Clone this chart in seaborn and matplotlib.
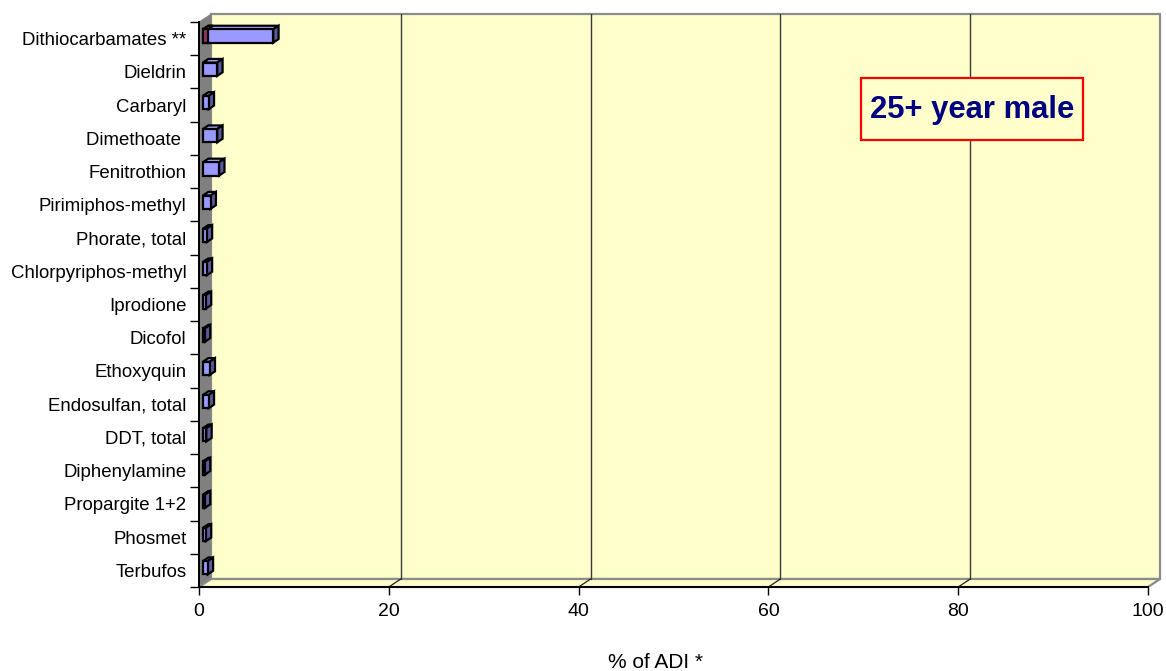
import matplotlib
matplotlib.use("Agg")
import matplotlib.pyplot as plt
from matplotlib.patches import Polygon, Rectangle
import numpy as np
import pandas as pd
import seaborn as sns

# ---- data: share of the acceptable daily intake (% of ADI) ----
pesticides = [
    "Dithiocarbamates **", "Dieldrin", "Carbaryl", "Dimethoate ",
    "Fenitrothion", "Pirimiphos-methyl", "Phorate, total",
    "Chlorpyriphos-methyl", "Iprodione", "Dicofol", "Ethoxyquin",
    "Endosulfan, total", "DDT, total", "Diphenylamine", "Propargite 1+2",
    "Phosmet", "Terbufos",
]
# first stacked segment (only Dithiocarbamates has one)
part_a = [0.5, 0, 0, 0, 0, 0, 0, 0, 0, 0, 0, 0, 0, 0, 0, 0, 0]
# second stacked segment
part_b = [6.9, 1.5, 0.6, 1.5, 1.7, 0.8, 0.4, 0.4, 0.3, 0.2, 0.7, 0.6,
          0.35, 0.2, 0.2, 0.3, 0.5]
x_ticks = [0, 20, 40, 60, 80, 100]
x_label = "% of ADI *"
panel_title = "25+ year male"

df = pd.DataFrame({"pesticide": pesticides, "a": part_a, "b": part_b})
df["total"] = df["a"] + df["b"]

# ---- styling ----
sns.set_theme(style="white")
plt.rcParams["font.family"] = ["Liberation Sans", "DejaVu Sans"]
plt.rcParams["text.color"] = "black"
plt.rcParams["xtick.color"] = "black"
plt.rcParams["ytick.color"] = "black"
plt.rcParams["axes.labelcolor"] = "black"

BLUE = "#9999FF"
BLUE_TOP = "#A8A8FF"
BLUE_SIDE = "#5A5A9C"
RED = "#993366"
RED_TOP = "#B94D80"
WALL = "#FFFFCC"
SIDE_WALL = "#808080"
EDGE_LW = 1.6

W, H, DPI = 1166, 671, 100
fig = plt.figure(figsize=(W / DPI, H / DPI), dpi=DPI)
left_px, right_px, top_px, bottom_px = 199, 1148, 22, 587
ax = fig.add_axes([left_px / W, 1 - bottom_px / H,
                   (right_px - left_px) / W, (bottom_px - top_px) / H])

n = len(pesticides)
sns.barplot(data=df, x="total", y="pesticide", orient="h", color=BLUE,
            saturation=1, width=0.4, edgecolor="black", linewidth=EDGE_LW,
            ax=ax)
n_total = len(ax.patches)
sns.barplot(data=df, x="a", y="pesticide", orient="h", color=RED,
            saturation=1, width=0.4, edgecolor="black", linewidth=EDGE_LW,
            ax=ax)
total_bars = list(ax.patches)[:n_total]
a_bars = list(ax.patches)[n_total:]

ax.set_xlim(0, 100)
ax.set_ylim(n - 0.5, -0.5)
ax.patch.set_visible(False)

# pixel scale of the data axes, used for the oblique depth offsets
sx = (right_px - left_px) / 100.0
sy = (bottom_px - top_px) / n
DX, DY = 12.0, 8.0   # depth of the back wall in pixels


def recede(x, y, t):
    """Move a point back into the chart depth by fraction t of the wall depth."""
    return x + t * DX / sx, y - t * DY / sy


y_bot, y_top = n - 0.5, -0.5

# side wall
ax.add_patch(Polygon([(0, y_bot), (0, y_top), recede(0, y_top, 1),
                      recede(0, y_bot, 1)], closed=True, facecolor=SIDE_WALL,
                     edgecolor=SIDE_WALL, lw=0.5, zorder=0.5, clip_on=False))
# back wall
bx0, by0 = recede(0, y_bot, 1)
bx1, by1 = recede(100, y_top, 1)
ax.add_patch(Polygon([(bx0, by0), (bx1, by0), (bx1, by1), (bx0, by1)],
                     closed=True, facecolor=WALL, edgecolor="#8C8C8C",
                     lw=1.6, zorder=0.4, clip_on=False))
# floor
ax.add_patch(Polygon([(0, y_bot), (100, y_bot), recede(100, y_bot, 1),
                      recede(0, y_bot, 1)], closed=True, facecolor=WALL,
                     edgecolor="#8C8C8C", lw=1.6, zorder=0.6, clip_on=False))

# gridlines on the back wall and their traces across the floor
for v in x_ticks[1:-1]:
    gx0, gy0 = recede(v, y_bot, 1)
    gx1, gy1 = recede(v, y_top, 1)
    ax.plot([gx0, gx1], [gy0, gy1], color="#3A3A3A", lw=1.0, zorder=0.7,
            clip_on=False)
    ax.plot([v, gx0], [y_bot, gy0], color="#222222", lw=0.9, zorder=0.7,
            clip_on=False)

# bars: push them slightly into the depth and add top / end faces
T0, T1 = 0.33, 0.45
for p in total_bars + a_bars:
    ox, oy = recede(0, 0, T0)
    p.set_x(p.get_x() + ox)
    p.set_y(p.get_y() + oy)

for p in total_bars:
    x0, y0, w, h = p.get_x(), p.get_y(), p.get_width(), p.get_height()
    x1, y1 = x0 + w, y0 + h
    ax.add_patch(Polygon([(x0, y0), (x1, y0), recede(x1, y0, T1),
                          recede(x0, y0, T1)], closed=True,
                         facecolor=BLUE_TOP, edgecolor="black", lw=EDGE_LW,
                         zorder=2.5))
    ax.add_patch(Polygon([(x1, y0), (x1, y1), recede(x1, y1, T1),
                          recede(x1, y0, T1)], closed=True,
                         facecolor=BLUE_SIDE, edgecolor="black", lw=EDGE_LW,
                         zorder=2.5))
    p.set_zorder(3)

for p in a_bars:
    if p.get_width() <= 0:
        p.set_visible(False)
        continue
    x0, y0, w = p.get_x(), p.get_y(), p.get_width()
    x1 = x0 + w
    ax.add_patch(Polygon([(x0, y0), (x1, y0), recede(x1, y0, T1),
                          recede(x0, y0, T1)], closed=True,
                         facecolor=RED_TOP, edgecolor="black", lw=EDGE_LW,
                         zorder=3.4))
    p.set_zorder(3.5)

# axes, ticks and labels
for s in ["top", "right"]:
    ax.spines[s].set_visible(False)
for s in ["left", "bottom"]:
    ax.spines[s].set_color("black")
    ax.spines[s].set_linewidth(1.4)
    ax.spines[s].set_zorder(4)

ax.set_xticks(x_ticks)
ax.set_xticklabels([str(v) for v in x_ticks])
ax.tick_params(axis="x", direction="out", length=5.5, width=1.0,
               color="black", labelsize=14, labelcolor="black", pad=6,
               bottom=True)
ax.set_yticks(np.arange(n))
ax.set_yticklabels(pesticides)
ax.tick_params(axis="y", which="major", length=0, labelsize=13.4,
               labelcolor="black", pad=9)
ax.set_yticks(np.arange(n + 1) - 0.5, minor=True)
ax.tick_params(axis="y", which="minor", direction="out", length=6.5,
               width=1.0, color="black", left=True)

ax.set_ylabel("")
ax.set_xlabel(x_label, fontsize=15, color="black")
ax.xaxis.set_label_coords((656 - left_px) / (right_px - left_px),
                          -(653 - bottom_px) / (bottom_px - top_px))

# boxed panel title
bx_l, bx_r, bx_t, bx_b = 861, 1083, 78, 140
fig.patches.append(Rectangle((bx_l / W, 1 - bx_b / H), (bx_r - bx_l) / W,
                             (bx_b - bx_t) / H, transform=fig.transFigure,
                             facecolor=WALL, edgecolor="#FF0000", lw=1.6,
                             zorder=5))
fig.text((bx_l + bx_r) / 2 / W, 1 - 110 / H, panel_title, ha="center",
         va="center", fontsize=22.3, fontweight="bold", color="#000080",
         zorder=6)

fig.savefig("out.png", dpi=DPI, facecolor="white")
